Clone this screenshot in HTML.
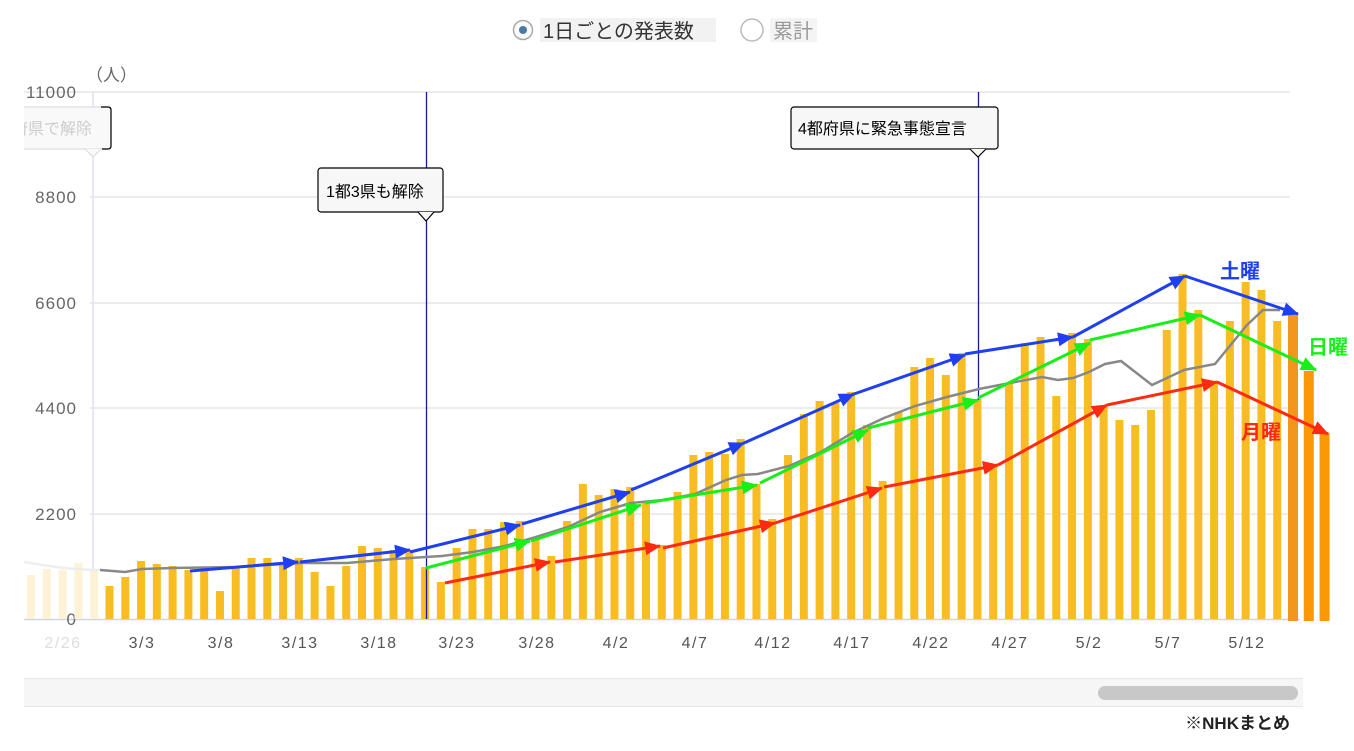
<!DOCTYPE html>
<html><head><meta charset="utf-8">
<style>
html,body{margin:0;padding:0;background:#fff;}
body{width:1354px;height:746px;overflow:hidden;font-family:"Liberation Sans","Noto Sans CJK JP",sans-serif;}
</style></head>
<body>
<svg id="s" width="1354" height="746" xmlns="http://www.w3.org/2000/svg" font-family="Liberation Sans, Noto Sans CJK JP, sans-serif">
<defs>
<marker id="mb" markerWidth="16" markerHeight="14" refX="15" refY="7" orient="auto" markerUnits="userSpaceOnUse" viewBox="0 0 16 14"><path d="M0,0 L16,7 L0,14z" fill="#2040f0"/></marker>
<marker id="mg" markerWidth="16" markerHeight="14" refX="15" refY="7" orient="auto" markerUnits="userSpaceOnUse" viewBox="0 0 16 14"><path d="M0,0 L16,7 L0,14z" fill="#1aee1a"/></marker>
<marker id="mr" markerWidth="16" markerHeight="14" refX="15" refY="7" orient="auto" markerUnits="userSpaceOnUse" viewBox="0 0 16 14"><path d="M0,0 L16,7 L0,14z" fill="#ff2a10"/></marker>
</defs>
<!-- radio -->
<circle cx="523" cy="30" r="9.5" fill="#fafafa" stroke="#aaa" stroke-width="1.5"/>
<circle cx="523" cy="30" r="4" fill="#4d7aa0"/>
<rect x="540" y="18" width="176" height="24" fill="#f2f2f2"/>
<text x="543" y="38" font-size="20" fill="#333">1日ごとの発表数</text>
<circle cx="752" cy="30" r="11" fill="#fff" stroke="#bbb" stroke-width="1.5"/>
<rect x="770" y="18" width="47" height="24" fill="#f4f4f4"/>
<text x="773" y="38" font-size="20" fill="#999">累計</text>
<!-- grid -->
<g stroke="#e6e6e6" stroke-width="1.5">
<line x1="24" y1="92" x2="1290" y2="92"/><line x1="90" y1="197" x2="1290" y2="197"/>
<line x1="90" y1="303" x2="1290" y2="303"/><line x1="90" y1="408" x2="1290" y2="408"/>
<line x1="90" y1="514" x2="1290" y2="514"/>
</g>
<line x1="93" y1="92" x2="93" y2="620" stroke="#dde0f5" stroke-width="1.5"/>
<line x1="24" y1="619.5" x2="1300" y2="619.5" stroke="#ccd6eb" stroke-width="1.5"/>
<g font-size="17" fill="#666" text-anchor="end" letter-spacing="1">
<text x="77" y="98">11000</text><text x="77" y="203">8800</text><text x="77" y="309">6600</text>
<text x="77" y="414">4400</text><text x="77" y="520">2200</text><text x="77" y="625">0</text>
</g>
<text x="86" y="81" font-size="17" fill="#666">（人）</text>
<g id="bars"></g>
<g font-size="16" fill="#555" text-anchor="middle" letter-spacing="1.5">
<text x="63" y="648" fill="#ddd">2/26</text><text x="142" y="648">3/3</text><text x="221" y="648">3/8</text>
<text x="300" y="648">3/13</text><text x="379" y="648">3/18</text><text x="457" y="648">3/23</text>
<text x="537" y="648">3/28</text><text x="616" y="648">4/2</text><text x="695" y="648">4/7</text>
<text x="773" y="648">4/12</text><text x="852" y="648">4/17</text><text x="931" y="648">4/22</text>
<text x="1010" y="648">4/27</text><text x="1089" y="648">5/2</text><text x="1168" y="648">5/7</text>
<text x="1247" y="648">5/12</text>
</g>
<!-- vertical event lines -->
<line x1="426.5" y1="92" x2="426.5" y2="619" stroke="#1a1aa0" stroke-width="1.3"/>
<line x1="978.5" y1="92" x2="978.5" y2="400" stroke="#1a1aa0" stroke-width="1.3"/>
<!-- moving avg -->
<path d="M24,562 C50,566 70,570 100,570" fill="none" stroke="#eee" stroke-width="2.5"/>
<polyline fill="none" stroke="#888" stroke-width="2.5" points="100,570 125,572 142,569 173,568 236,567 300,563 347,563 394,559 442,556 473,552 505,546 536,537 568,527 600,512 631,503 663,500 695,494 726,480 742,475 758,474 789,466 821,452 852,433 884,418 915,406 947,397 979,389 1010,383 1042,377 1058,380 1073,378 1089,372 1105,364 1121,361 1152,385 1184,370 1215,364 1247,325 1263,310 1280,310"/>
<g id="arrows"></g>
<!-- callouts -->
<g>
<rect x="318" y="168" width="125" height="44" rx="3" fill="#f7f7f7" stroke="#000" stroke-width="1.2"/>
<path d="M418,212 L426,221 L434,212" fill="#f7f7f7" stroke="#000" stroke-width="1.2"/>
<text x="326" y="197" font-size="16" fill="#000">1都3県も解除</text>
<rect x="791" y="107" width="207" height="42" rx="3" fill="#f7f7f7" stroke="#000" stroke-width="1.2"/>
<path d="M970,149 L978,157 L986,149" fill="#f7f7f7" stroke="#000" stroke-width="1.2"/>
<text x="798" y="134" font-size="16" fill="#000">4都府県に緊急事態宣言</text>
<rect x="18" y="107" width="93" height="42" rx="3" fill="#f9f9f9" stroke="#ddd" stroke-width="1.2"/>
<path d="M85,149 L93,157 L101,149" fill="#f9f9f9" stroke="#ddd" stroke-width="1.2"/>
<path d="M101,107 L108,107 Q111,107 111,110 L111,146 Q111,149 108,149 L102,149" fill="none" stroke="#000" stroke-width="1.2"/>
<text x="12" y="134" font-size="16" fill="#ccc">府県で解除</text>
<rect x="0" y="100" width="24" height="60" fill="#fff"/>
</g>
<text x="1220" y="278" font-size="20" font-weight="bold" fill="#2040f0">土曜</text>
<text x="1308" y="354" font-size="20" font-weight="bold" fill="#1aee1a">日曜</text>
<text x="1241" y="439" font-size="20" font-weight="bold" fill="#ff2a10">月曜</text>
<!-- scroll -->
<line x1="24" y1="678.5" x2="1303" y2="678.5" stroke="#e6e6e6"/>
<line x1="24" y1="706.5" x2="1303" y2="706.5" stroke="#e6e6e6"/>
<rect x="24" y="679" width="1279" height="27" fill="#f6f6f6"/>
<rect x="1098" y="686" width="200" height="14" rx="7" fill="#c8c8c8"/>
<text x="1290" y="729" font-size="17" font-weight="bold" fill="#222" text-anchor="end">※NHKまとめ</text>
</svg>
<script>
var NS="http://www.w3.org/2000/svg";
function el(t,a,p){var e=document.createElementNS(NS,t);for(var k in a)e.setAttribute(k,a[k]);p.appendChild(e);return e;}
var bars=document.getElementById("bars");
var faded=[575,569,570,563,569];
for(var i=0;i<5;i++){var x=31+i*15.8;el("rect",{x:x-4,y:faded[i],width:8,height:619-faded[i],fill:"#fdf1d6"},bars);}
var tops=[586,577,561,564,566,570,570,591,568,558,558,562,558,572,586,566,546,548,550,550,567,582,548,529,529,522,521,537,556,521,484,495,489,487,503,545,492,455,452,454,439,484,519,455,414,401,403,392,425,481,412,367,358,375,353,399,465,383,343,337,396,333,339,407,420,425,410,330,274,310,381,321,282,290,321,314,371,433];
for(var i=0;i<tops.length;i++){
 var x=109.5+i*15.78, c="#f8bd22", w=8, b=619;
 if(i==75){c="#f3961e";w=10;b=621;} if(i>=76){c="#fb9806";w=10;b=621;}
 el("rect",{x:x-w/2,y:tops[i],width:w,height:b-tops[i],fill:c},bars);
}
var ar=document.getElementById("arrows");
function series(pts,col,m){for(var i=0;i<pts.length;i++){var p=pts[i];el("line",{x1:p[0],y1:p[1],x2:p[2],y2:p[3],stroke:col,"stroke-width":3,"marker-end":"url(#"+m+")"},ar);}}
series([[190,571,298,562],[300,562,410,550],[410,552,520,525],[522,524,630,492],[631,490,744,443],[744,443,854,394],[854,394,965,355],[965,354,1073,337],[1073,337,1185,276],[1185,276,1298,314]],"#2040f0","mb");
series([[426,568,530,541],[531,541,641,505],[645,503,757,485],[760,483,868,430],[868,428,978,400],[978,398,1090,343],[1090,340,1200,315],[1200,315,1316,370]],"#1aee1a","mg");
series([[445,583,550,562],[555,562,660,546],[663,548,775,523],[775,523,882,488],[884,487,998,465],[998,465,1107,405],[1107,405,1217,382],[1217,382,1328,434]],"#ff2a10","mr");
</script>
</body></html>
